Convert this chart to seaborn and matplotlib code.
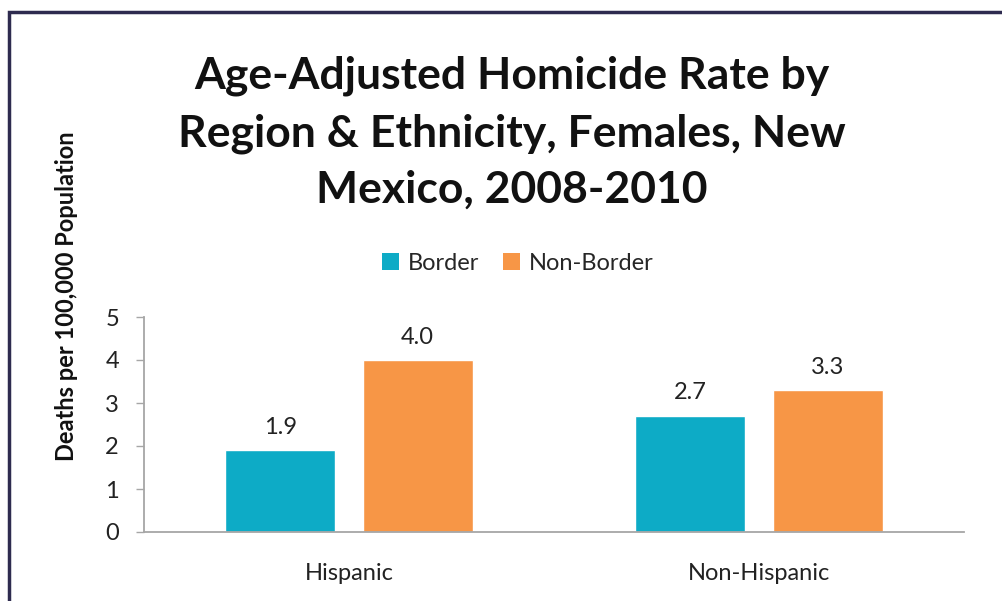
import matplotlib
matplotlib.use("Agg")
import matplotlib.pyplot as plt
import seaborn as sns
import pandas as pd
from matplotlib.patches import Rectangle, Patch

# Data
ethnicities = ["Hispanic", "Non-Hispanic"]
regions = ["Border", "Non-Border"]
border_rates = [1.9, 2.7]
non_border_rates = [4.0, 3.3]
y_ticks = [0, 1, 2, 3, 4, 5]

title = "Age-Adjusted Homicide Rate by\nRegion & Ethnicity, Females, New\nMexico, 2008-2010"
y_label = "Deaths per 100,000 Population"

palette = {"Border": "#0DABC6", "Non-Border": "#F79646"}

df = pd.DataFrame({
    "Ethnicity": ethnicities * 2,
    "Region": [regions[0]] * len(ethnicities) + [regions[1]] * len(ethnicities),
    "Rate": border_rates + non_border_rates,
})

sns.set_theme(style="white")
plt.rcParams["font.family"] = ["Lato", "DejaVu Sans"]

W, H = 1003, 601
fig = plt.figure(figsize=(W / 100, H / 100), dpi=100)
ax = fig.add_axes([144 / W, 1 - 532 / H, (964 - 144) / W, (532 - 317) / H])

sns.barplot(data=df, x="Ethnicity", y="Rate", hue="Region", order=ethnicities,
            hue_order=regions, palette=palette, width=0.67, gap=0.2,
            saturation=1, ax=ax, legend=False)

for container in ax.containers:
    ax.bar_label(container, fmt="%.1f", padding=9, fontsize=17, color="#222222")

ax.set_xlim(-0.5, 1.5)
ax.set_ylim(0, 5)
ax.set_yticks(y_ticks)
ax.set_yticklabels([str(t) for t in y_ticks], fontsize=17, color="#222222")
ax.tick_params(axis="x", labelsize=17, colors="#222222", length=0, pad=22)
ax.tick_params(axis="y", length=6, width=1, color="#A6A6A6", left=True, pad=12)
ax.set_xlabel("")
ax.set_ylabel("")
for side in ["top", "right"]:
    ax.spines[side].set_visible(False)
for side in ["left", "bottom"]:
    ax.spines[side].set_color("#A6A6A6")
    ax.spines[side].set_linewidth(1.3)

fig.text(67 / W, 1 - 296 / H, y_label, rotation=90, ha="center", va="center",
         fontsize=17, fontweight="bold", color="#111111")

fig.text(512 / W, 1 - 133 / H, title, ha="center", va="center", fontsize=32,
         fontweight="bold", color="#111111", linespacing=1.5)

handles = [Patch(facecolor=palette[r], edgecolor="none", label=r) for r in regions]
fig.legend(handles=handles, loc="center", bbox_to_anchor=(518 / W, 1 - 263 / H),
           ncol=2, frameon=False, fontsize=17, handlelength=0.7, handleheight=0.7,
           handletextpad=0.4, columnspacing=1.0)

# Frame around the chart area
fig.add_artist(Rectangle((9.5 / W, -0.05), 1.2, 1 + 0.05 - 12.5 / H,
                         transform=fig.transFigure, fill=False,
                         edgecolor="#2E2B4F", linewidth=2.5))

fig.savefig("out.png", dpi=100, facecolor="white")
